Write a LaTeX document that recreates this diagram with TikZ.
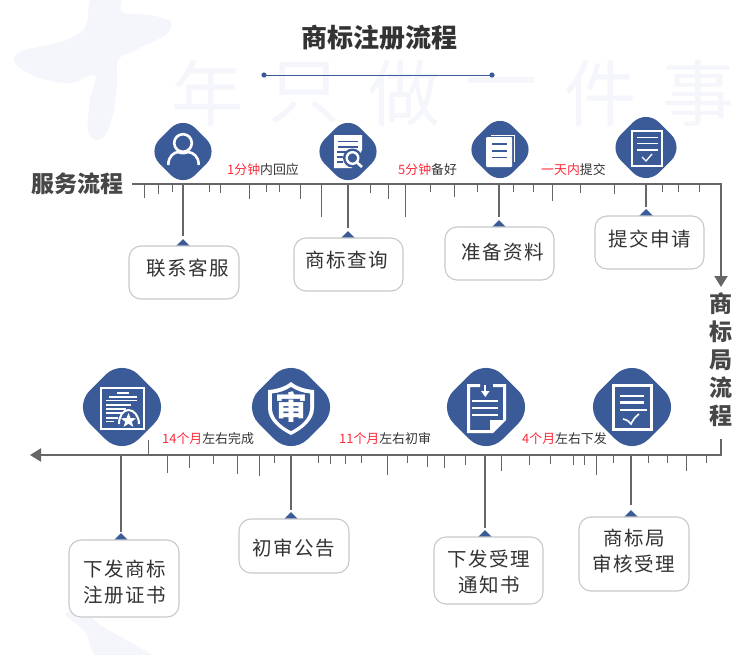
\documentclass[tikz,border=0pt]{standalone}
\usepackage{fontspec}
\setmainfont{Noto Sans CJK SC}
\newfontfamily\boxfont[LetterSpace=7]{Noto Sans CJK SC}
\usetikzlibrary{shapes.geometric,arrows.meta}
\definecolor{brand}{HTML}{3B5B98}
\definecolor{axisgray}{HTML}{666666}
\definecolor{wm}{HTML}{F4F6FB}
\definecolor{edge}{HTML}{C8C8C8}
\definecolor{ink}{HTML}{333333}
\definecolor{hot}{HTML}{FF2A3A}
\tikzset{
  axisline/.style={draw=axisgray,line width=2pt},
  stemline/.style={draw=axisgray,line width=2pt},
  tickline/.style={draw=axisgray,line width=.7pt},
  badge/.style={diamond,aspect=1,fill=brand,inner sep=0pt,outer sep=0pt,rounded corners=#1},
  marker/.style={diamond,aspect=1,fill=brand,inner sep=0pt,outer sep=0pt,minimum size=14pt},
  cardbox/.style={draw=edge,line width=1.1pt,fill=white,rounded corners=12pt,inner sep=0pt,outer sep=0pt},
  cardtext/.style={text=ink,align=center,inner sep=0pt,font=\boxfont\fontsize{19.5}{26}\selectfont},
  timetext/.style={inner sep=0pt,text=ink,font=\fontsize{12.9}{14}\selectfont},
  sidetext/.style={inner sep=0pt,text=ink!90!white,align=center,font=\bfseries\fontsize{23}{28}\selectfont},
  wmtext/.style={inner sep=0pt,text=wm,font=\fontsize{72}{74}\selectfont},
  wi/.style={draw=white,line width=#1},
  wi/.default=2pt,
  bi/.style={draw=brand,line width=#1},
  bi/.default=1.6pt,
}
\begin{document}
\begin{tikzpicture}[x=1pt,y=-1pt,line cap=butt]
\useasboundingbox[fill=white] (0,0) rectangle (750,654);
% watermark
\fill[wm] plot[smooth cycle,tension=.55] coordinates {(14,58)(24,50)(60,42)(85,28)(92,-4)(120,-4)(122,12)(150,15)(171,22)(165,35)(135,50)(118,60)(117,85)(113,115)(105,135)(97,140)(88,132)(90,100)(95,75)(70,83)(40,78)(20,68)};
\fill[wm] plot[smooth cycle,tension=.5] coordinates {(65,614)(85,612)(100,625)(135,645)(155,660)(100,660)(85,632)};
\foreach \n/\x/\t in {w1/207/年,w2/304/只,w3/404/做,w4/501/一,w5/600/件,w6/698/事}
  \node[wmtext] (\n) at (\x,93) {\t};
% title
\node[inner sep=0pt,text=ink,font=\bfseries\fontsize{26}{28}\selectfont] (title) at (379.5,38) {商标注册流程};
\fill[brand] (264,75) circle[radius=2.6];
\fill[brand] (492,75) circle[radius=2.6];
\coordinate (tl) at (264,75); \coordinate (tr) at (492,75);
\draw[brand,line width=1pt] (tl) -- (tr);

% axes
\coordinate (A0) at (132,184); \coordinate (A1) at (721,184); \coordinate (A2) at (721,287);
\draw[axisline,-{Triangle[length=11pt,width=13pt]}] (A0) -- (A1) -- (A2);
\coordinate (B0) at (721,439); \coordinate (B1) at (721,455); \coordinate (B2) at (30,455);
\draw[axisline,-{Triangle[length=11pt,width=13pt]}] (B0) -- (B1) -- (B2);

\foreach \x/\y in {144/198,158/194,172/192,209/192,220/193,249/199,266/192,279/192,300/199,321/217,370/193,388/199,405/217,430/192,454/197,477/192,513/192,533/192,552/201,580/193,614/194,662/192,678/192,699/192}
  \draw[tickline] (\x,184) -- (\x,\y);
\foreach \x/\y in {167/473,189/468,213/464,237/474,259/476,274/463,318/463,330/464,345/464,361/463,387/475,407/463,427/467,444/468,465/465,501/471,529/465,550/464,573/465,584/465,596/475,613/463,648/463,667/463,686/471,706/463,148/440}
  \draw[tickline] (\x,455) -- (\x,\y);

% side labels
\node[sidetext] (svc) at (77,184) {服务流程};
\node[sidetext] (tmo) at (721,360) {商\\标\\局\\流\\程};

% time labels
\node[timetext,anchor=west] (t1) at (227,170) {\textcolor{hot}{1分钟}内回应};
\node[timetext,anchor=west] (t2) at (398,170) {\textcolor{hot}{5分钟}备好};
\node[timetext,anchor=west] (t3) at (541,170) {\textcolor{hot}{一天内}提交};
\node[timetext,anchor=west] (t4) at (162,439) {\textcolor{hot}{14个月}左右完成};
\node[timetext,anchor=west] (t5) at (339,439) {\textcolor{hot}{11个月}左右初审};
\node[timetext,anchor=west] (t6) at (522,439) {\textcolor{hot}{4个月}左右下发};

% stems, markers, cards
\foreach \id/\x/\ay/\ey/\l/\t/\r/\b/\tx/\ty/\txt in {
  a/183/184/236/129/246/239/299/187.5/268/{联系客服},
  b/348/184/228/294/238/403/291/347/260/{商标查询},
  c/499/184/217/445/227/554/280/502.5/252/{准备资料},
  d/646/184/207/595/216/704/269/650/239/{提交申请},
  e/121/455/532/69/540/179/617/124.5/582/{下发商标\\注册证书},
  f/291/455/510/239/519/349/573/294/548/{初审公告},
  g/485/455/528/434/537/543/604/489/572/{下发受理\\通知书},
  h/631/455/505/579/517/689/591/634/551.5/{商标局\\审核受理}}{
  \coordinate (s\id) at (\x,\ay);
  \coordinate (n\id) at (\x,\ey);
  \draw[stemline] (s\id) -- (n\id);
  \node[marker] (m\id) at (\x,\t) {};
  \pgfmathsetmacro{\cx}{(\l+\r)/2}
  \pgfmathsetmacro{\cy}{(\t+\b)/2}
  \pgfmathsetmacro{\cw}{\r-\l}
  \pgfmathsetmacro{\ch}{\b-\t}
  \node[cardbox,minimum width=\cw pt,minimum height=\ch pt] (box\id) at (\cx,\cy) {};
  \node[cardtext] (lab\id) at (\tx,\ty) {\txt};
}

% badges: top row
\node[badge=17pt,minimum size=71.2pt] (i1) at (183,151.5) {};
\node[badge=17pt,minimum size=71.2pt] (i2) at (348,151.5) {};
\node[badge=17pt,minimum size=71.2pt] (i3) at (500,149.5) {};
\node[badge=18.3pt,minimum size=76.2pt] (i4) at (646,147.5) {};
% badges: bottom row
\node[badge=23.4pt,minimum size=97.5pt] (j1) at (122,407) {};
\node[badge=23.4pt,minimum size=97.5pt] (j2) at (291,407) {};
\node[badge=23.4pt,minimum size=97.5pt] (j3) at (486,407) {};
\node[badge=23.4pt,minimum size=97.5pt] (j4) at (632,407) {};

% icon 1: person
\draw[wi=2.6pt] (183,143) circle[radius=8.8];
\draw[wi=2.6pt] (168.3,165) .. controls (168.3,156) and (174,152.5) .. (178,152) .. controls (181,153.5) and (185,153.5) .. (188,152) .. controls (193,152.5) and (198.7,156) .. (198.7,165);

% icon 2: document + magnifier
\fill[white] (334,135) -- (362,135) -- (362,150) -- (352,168) -- (334,168) -- cycle;
\foreach \y in {141.5,147} \draw[bi=1.8pt] (338,\y) -- (358,\y);
\draw[bi=1.6pt] (337,152) -- (346,152);
\draw[bi=1.6pt] (337,157) -- (343,157);
\draw[bi=1.6pt] (337,162) -- (343,162);
\fill[brand] (352.5,158) circle[radius=9.5];
\draw[wi=2.4pt] (352.5,158) circle[radius=5.8];
\draw[wi=2.6pt] (357,162.5) -- (362,167);

% icon 3: papers
\draw[wi=1pt] (491,135) -- (514,135) -- (514,162);
\fill[white,rounded corners=1pt] (486,137) rectangle (512,167);
\foreach \y in {144,151,157.5} \draw[bi=1.6pt] (492,\y) -- (507,\y);

% icon 4: form
\draw[wi=2pt] (632,131) rectangle (661.5,165.5);
\foreach \y in {137.5,143.5,150} \draw[wi=1.8pt] (637,\y) -- (658,\y);
\draw[wi=1.3pt] (642,157) -- (646,161) -- (652,154);

% icon A: certificate
\draw[wi=2pt] (101,388) rectangle (143.5,428.5);
\draw[wi=1.2pt] (117,393) -- (129,393);
\foreach \y/\a/\b in {397/109/137,400.5/106/137,405/106/131,409/106/126,413/106/122,418/106/118,421.5/106/114}
  \draw[wi=1.2pt] (\a,\y) -- (\b,\y);
\draw[wi=2pt] (119,424) .. controls (119,416) and (123,410) .. (128.5,410) .. controls (134,410) and (139,416) .. (139,424);
\fill[white] (128.5,413) -- (130.5,418) -- (136,418.4) -- (131.8,421.6) -- (133.3,426.8) -- (128.5,423.8) -- (123.7,426.8) -- (125.2,421.6) -- (121,418.4) -- (126.5,418) -- cycle;

% icon B: shield
\fill[white] (291,382) .. controls (297,387) and (306,389.5) .. (314,390) -- (314,408) .. controls (314,420) and (303,429) .. (291,435) .. controls (279,429) and (268,420) .. (268,408) -- (268,390) .. controls (276,389.5) and (285,387) .. (291,382) -- cycle;
\fill[brand] (291,387) .. controls (296,390.5) and (303,393) .. (310,393.5) -- (310,408) .. controls (310,418) and (301,426) .. (291,431) .. controls (281,426) and (272,418) .. (272,408) -- (272,393.5) .. controls (279,393) and (286,390.5) .. (291,387) -- cycle;
\node[inner sep=0pt,text=white,font=\bfseries\fontsize{32}{34}\selectfont] (shieldglyph) at (291,407.5) {审};

% icon C: notice
\fill[white] (467,384) -- (480,384) -- (480,387) -- (470,387) -- (470,430) -- (490,430) -- (490,420) -- (503,420) -- (503,387) -- (493,387) -- (493,384) -- (506,384) -- (506,420) -- (493,433) -- (467,433) -- cycle;
\draw[wi=1.8pt] (485.3,385) -- (485.3,392);
\fill[white] (481,391) -- (489.6,391) -- (485.3,397) -- cycle;
\foreach \y in {401,408,415} \draw[wi=1.8pt] (472,\y) -- (498,\y);

% icon D: review form
\draw[wi=3pt] (613,385) rectangle (651,429.5);
\foreach \y/\b in {396/644,402.5/644,410/647} \draw[wi=2.4pt] (620,\y) -- (\b,\y);
\draw[wi=1.6pt] (623,419) .. controls (627,420) and (629,421) .. (631,424) .. controls (633,420) and (635,417) .. (639,414);
\end{tikzpicture}
\end{document}
